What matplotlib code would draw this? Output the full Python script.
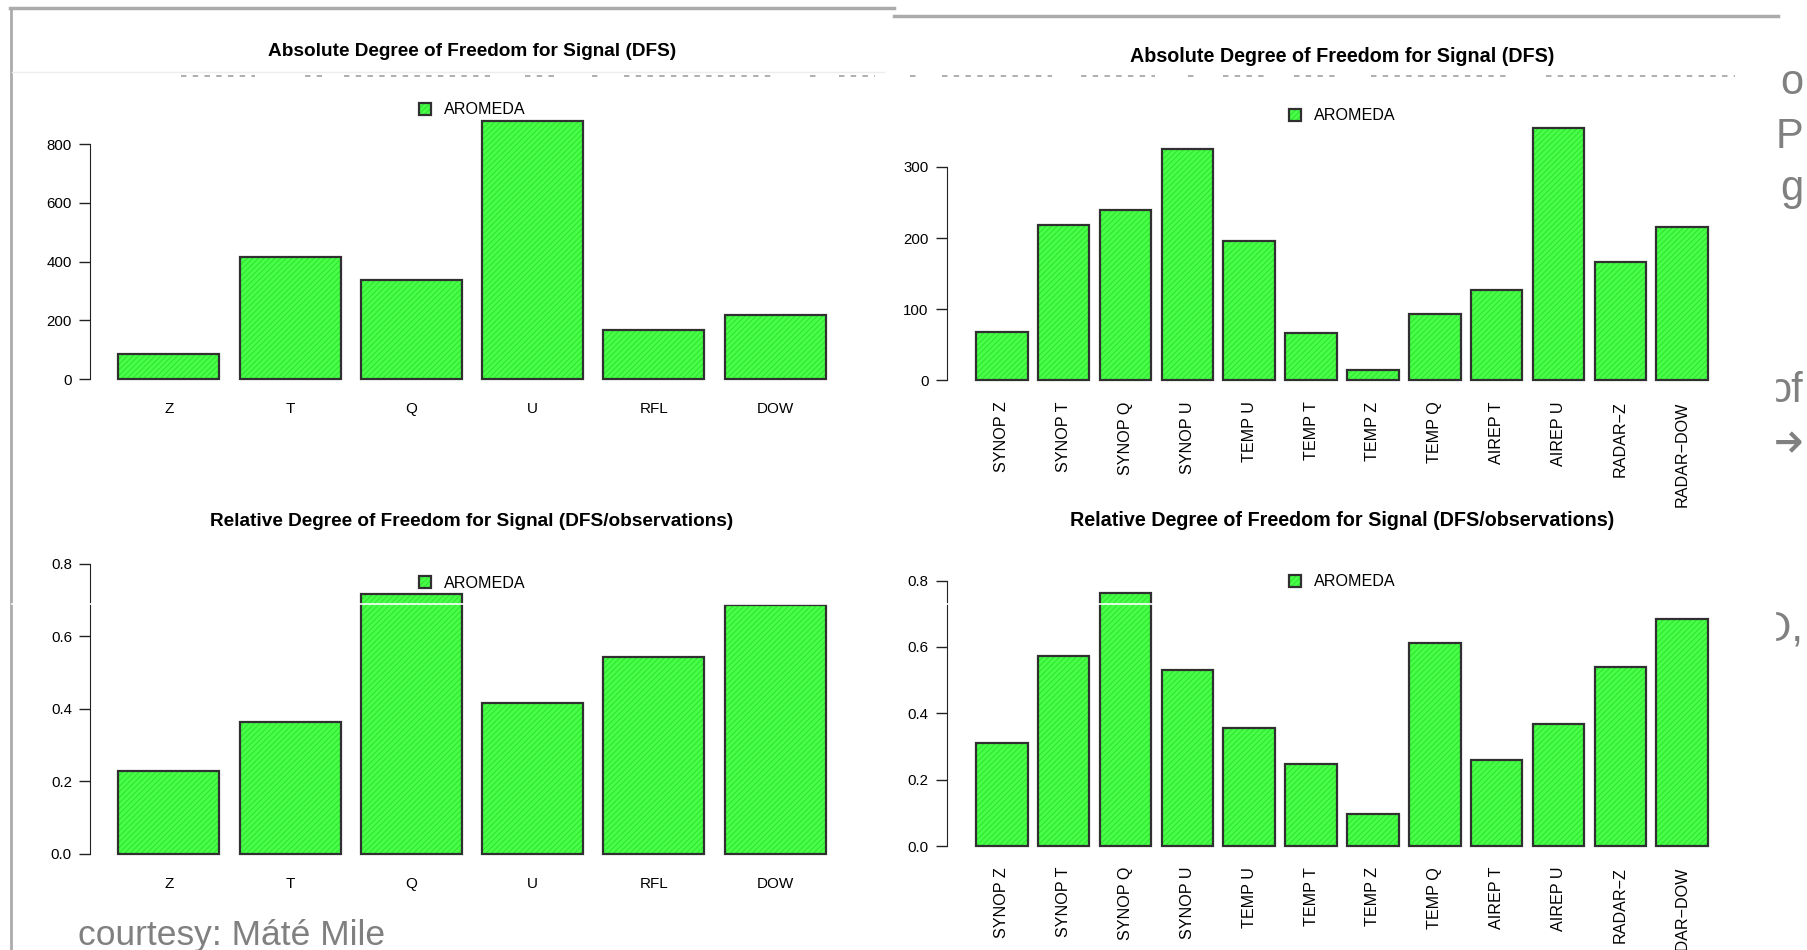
import numpy as np
import matplotlib
matplotlib.use('Agg')
import matplotlib.pyplot as plt
from matplotlib.patches import Rectangle
from matplotlib.lines import Line2D
from matplotlib.legend_handler import HandlerTuple

# ── data ─────────────────────────────────────────────────────────────────────
elements = ['Z', 'T', 'Q', 'U', 'RFL', 'DOW']
dfs_elements = [85, 415, 336, 878, 167, 219]
rel_elements = [0.229, 0.363, 0.715, 0.415, 0.543, 0.687]

obs_types = ['SYNOP Z', 'SYNOP T', 'SYNOP Q', 'SYNOP U', 'TEMP U', 'TEMP T',
             'TEMP Z', 'TEMP Q', 'AIREP T', 'AIREP U', 'RADAR\u2212Z',
             'RADAR\u2212DOW']
dfs_obs = [68, 218, 240, 325, 196, 67, 14.5, 93, 127, 355.5, 166, 216]
rel_obs = [0.312, 0.572, 0.762, 0.530, 0.357, 0.247, 0.098, 0.612, 0.260,
           0.367, 0.540, 0.684]

abs_ticks = [0, 200, 400, 600, 800]
abs_ticks_obs = [0, 100, 200, 300]
rel_ticks = [0.0, 0.2, 0.4, 0.6, 0.8]

TITLE_ABS = 'Absolute Degree of Freedom for Signal (DFS)'
TITLE_REL = 'Relative Degree of Freedom for Signal (DFS/observations)'
LEGEND = 'AROMEDA'

# ── style ────────────────────────────────────────────────────────────────────
W, H = 1807, 950
GREEN = '#47ff47'
HATCH_GREEN = '#2fd92f'
EDGE = '#303030'
SLIDE_GREY = '#808080'
BORDER = '#ababab'

plt.rcParams['font.family'] = ['Liberation Sans', 'DejaVu Sans']
plt.rcParams['hatch.linewidth'] = 0.6

fig = plt.figure(figsize=(W / 100, H / 100), dpi=100, facecolor='white')


def fx(px):
    return px / W


def fy(py):
    return 1 - py / H


def panel(labels, values, x_left, x_right, p0, pt, t, ymax, yticks,
          title, title_y, title_size, legend_y, label_pad, rotate):
    """One R-style barplot; p0/pt are the pixel rows of 0 and of tick t."""
    k = (p0 - pt) / t
    top = p0 - 1.04 * ymax * k
    bot = p0 + 0.04 * ymax * k
    ax = fig.add_axes([fx(x_left), fy(bot), fx(x_right) - fx(x_left),
                       fy(top) - fy(bot)])
    ax.set_zorder(3)
    ax.patch.set_alpha(0)

    n = len(values)
    x = 0.7 + 1.2 * np.arange(n)
    span = 1.2 * n - 0.2
    fill = ax.bar(x, values, width=1.0, color=GREEN, edgecolor=HATCH_GREEN,
                  linewidth=0, hatch='//////')
    edge = ax.bar(x, values, width=1.0, fill=False, edgecolor=EDGE,
                  linewidth=1.6)
    ax.set_xlim(0.2 - 0.04 * span, 0.2 + 1.04 * span)
    ax.set_ylim(-0.04 * ymax, 1.04 * ymax)

    for s in ('top', 'right', 'bottom'):
        ax.spines[s].set_visible(False)
    ax.spines['left'].set_bounds(yticks[0], yticks[-1])
    ax.spines['left'].set_color('#222222')
    ax.set_yticks(yticks)
    if isinstance(yticks[-1], float):
        ax.set_yticklabels([f'{v:.1f}' for v in yticks])
    ax.tick_params(axis='y', length=8, width=1, color='#222222',
                   labelsize=10.8, pad=5)
    ax.set_xticks(x)
    ax.set_xticklabels(labels, rotation=90 if rotate else 0,
                       va='top', ha='center')
    ax.tick_params(axis='x', length=0, labelsize=11.6 if rotate else 11,
                   pad=label_pad * 0.72)

    cx = (x_left + x_right) / 2
    fig.text(fx(cx), fy(title_y), title, ha='center', va='center',
             fontsize=title_size, fontweight='bold')
    ax.legend([(fill[0], edge[0])], [LEGEND],
              handler_map={tuple: HandlerTuple(ndivide=1)},
              loc='center', bbox_to_anchor=(fx(cx), fy(legend_y)),
              bbox_transform=fig.transFigure, frameon=False,
              handlelength=0.75, handleheight=0.75, handletextpad=0.8,
              fontsize=11.6)
    return ax


panel(elements, dfs_elements, 90, 854, 379.1, 144.0, 800, max(dfs_elements),
      abs_ticks, TITLE_ABS, 51, 13.7, 110, 13, False)
panel(elements, rel_elements, 90, 854, 853.9, 563.5, 0.8, 0.8,
      rel_ticks, TITLE_REL, 522, 13.7, 583, 11, False)
panel(obs_types, dfs_obs, 946.7, 1737.3, 380.5, 167.0, 300, max(dfs_obs),
      abs_ticks_obs, TITLE_ABS, 56.5, 14.2, 116, 11, True)
panel(obs_types, rel_obs, 946.7, 1737.3, 846.3, 580.5, 0.8, 0.8,
      rel_ticks, TITLE_REL, 521, 14.2, 582, 10, True)

# ── slide background pieces peeking out on the right ─────────────────────────
for txt, base, size, fam in [('o', 94, 30, 'Liberation Sans'),
                             ('P', 148, 30, 'Liberation Sans'),
                             ('g', 200, 30, 'Liberation Sans'),
                             ('of', 402, 30, 'Liberation Sans'),
                             ('\u2192', 458, 36, 'DejaVu Sans'),
                             ('O,', 641, 30, 'Liberation Sans')]:
    fig.text(fx(1803), fy(base), txt, ha='right', va='baseline',
             fontsize=size, color=SLIDE_GREY, zorder=1, family=fam)
fig.add_artist(Rectangle((fx(893), fy(950)), fx(1775) - fx(893),
                         fy(17) - fy(950), transform=fig.transFigure,
                         color='white', zorder=2))

fig.text(fx(78), fy(945), 'courtesy: Máté Mile', ha='left', va='baseline',
         fontsize=25.5, color=SLIDE_GREY, zorder=6)


# frame lines of the pasted images
def hline(y, x0, x1, **kw):
    fig.add_artist(Line2D([fx(x0), fx(x1)], [fy(y), fy(y)],
                          transform=fig.transFigure, **kw))


fig.add_artist(Line2D([fx(10.5), fx(10.5)], [fy(8), fy(950)],
                      transform=fig.transFigure, color=BORDER, lw=2,
                      zorder=4))
hline(8, 10, 894, color=BORDER, lw=2.5, zorder=4)
hline(16, 894, 1778, color=BORDER, lw=2.5, zorder=4)
hline(72, 12, 884, color='#ededed', lw=1, zorder=4)
hline(603.5, 12, 1160, color='white', lw=1.2, zorder=8)

# clipped line of hidden slide text
for x0, x1 in [(181, 255), (305, 322), (344, 490), (525, 556), (592, 598),
               (624, 774), (810, 816), (839, 875), (910, 916), (942, 1052),
               (1081, 1155), (1188, 1194), (1223, 1270), (1294, 1341),
               (1371, 1507), (1546, 1735)]:
    hline(75.5, x0, x1, color='#a8a8a8', lw=1.3, ls=(0, (3, 3.5)), zorder=4)

fig.savefig('out.png', dpi=100, facecolor='white')
